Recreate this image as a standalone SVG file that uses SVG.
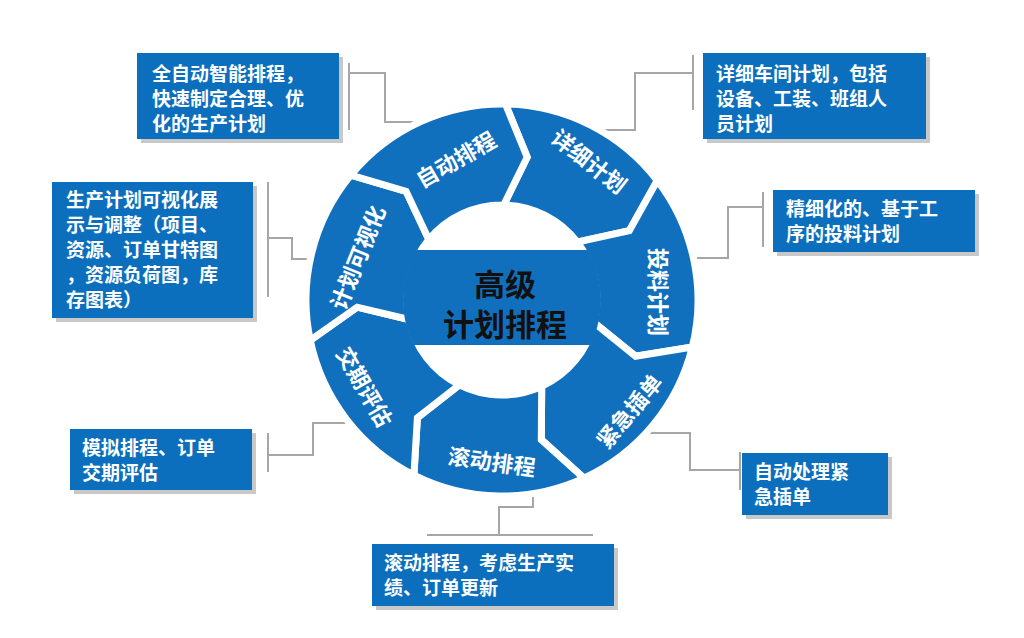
<svg xmlns="http://www.w3.org/2000/svg" width="1024" height="638" viewBox="0 0 1024 638">
<defs>
<style>
.seg{fill:#1170bd;stroke:#fff;stroke-width:7;stroke-linejoin:miter}
.box{fill:#0b6fbd}
.sh{fill:#9a9a9a;opacity:.55}
.bt{font-family:"Noto Sans CJK SC","Noto Sans",sans-serif;font-weight:bold;font-size:19px;fill:#fff}
.lb{font-family:"Noto Sans CJK SC","Noto Sans",sans-serif;font-weight:bold;font-size:22px;fill:#fff;text-anchor:middle;dominant-baseline:central}
.ln{fill:none;stroke:#a6a6a6;stroke-width:2}
.ct{font-family:"Noto Sans CJK SC",sans-serif;font-weight:bold;font-size:31px;fill:#111;text-anchor:middle}
</style>
<clipPath id="hole"><circle cx="502" cy="300" r="99"/></clipPath>
</defs>
<rect width="1024" height="638" fill="#fff"/>
<g id="connectors">
<path class="ln" d="M349 63V130M349 73H385V122H430"/>
<path class="ln" d="M268 182V297M268 238H292V259H315"/>
<path class="ln" d="M693 55V110M693 73H635V130H575"/>
<path class="ln" d="M763 192V247M763 207H728V258H693"/>
<path class="ln" d="M268 433V472M268 455H313V423H357"/>
<path class="ln" d="M740 452V490M740 470H690V433H642"/>
<path class="ln" d="M427 535H593M499 535V507H533V482"/>
</g>
<g id="ring">
<path id="seg-xixi" class="seg" d="M505.4 104 A196 196 0 0 1 657.3 180.5 L629.3 230.6 L577.3 242.1 A95 95 0 0 0 503.7 205 L527.2 157.2 Z"/>
<path id="seg-touliao" class="seg" d="M657.3 180.5 A196 196 0 0 1 692.3 347 L635.6 356.3 L594.2 322.8 A95 95 0 0 0 577.3 242.1 L629.3 230.6 Z"/>
<path id="seg-jinji" class="seg" d="M692.3 347 A196 196 0 0 1 583.9 478.1 L541.3 439.6 L541.7 386.3 A95 95 0 0 0 594.2 322.8 L635.6 356.3 Z"/>
<path id="seg-gundong" class="seg" d="M583.9 478.1 A196 196 0 0 1 413.9 475.1 L417.4 417.7 L459.3 384.9 A95 95 0 0 0 541.7 386.3 L541.3 439.6 Z"/>
<path id="seg-jiaoqi" class="seg" d="M413.9 475.1 A196 196 0 0 1 310.2 340.3 L357.2 307.2 L409 319.5 A95 95 0 0 0 459.3 384.9 L417.4 417.7 Z"/>
<path id="seg-keshi" class="seg" d="M310.2 340.3 A196 196 0 0 1 350.9 175.1 L406.1 191.3 L428.8 239.5 A95 95 0 0 0 409 319.5 L357.2 307.2 Z"/>
<path id="seg-zidong" class="seg" d="M350.9 175.1 A196 196 0 0 1 505.4 104 L527.2 157.2 L503.7 205 A95 95 0 0 0 428.8 239.5 L406.1 191.3 Z"/>
<rect x="395" y="250" width="215" height="95" fill="#1170bd" clip-path="url(#hole)"/>
<text class="ct" x="505" y="296">高级</text>
<text class="ct" x="505" y="336">计划排程</text>
<text class="lb" transform="translate(455,158) rotate(-30)">自动排程</text>
<text class="lb" transform="translate(590,160) rotate(38)">详细计划</text>
<text class="lb" transform="translate(660,292) rotate(90)">投料计划</text>
<text class="lb" transform="translate(628,410) rotate(-50)">紧急插单</text>
<text class="lb" transform="translate(492,460) rotate(8)">滚动排程</text>
<text class="lb" transform="translate(366,386) rotate(60)">交期评估</text>
<text class="lb" transform="translate(356,257) rotate(-68)">计划可视化</text>
</g>
<g id="box1"><rect class="sh" x="141" y="57" width="202" height="86"/><rect class="box" x="137" y="53" width="202" height="86"/>
<text class="bt" x="152" y="81">全自动智能排程，</text><text class="bt" x="152" y="106">快速制定合理、优</text><text class="bt" x="152" y="131">化的生产计划</text></g>
<g id="box2"><rect class="sh" x="707" y="57" width="223" height="86"/><rect class="box" x="703" y="53" width="223" height="86"/>
<text class="bt" x="716" y="81">详细车间计划，包括</text><text class="bt" x="716" y="106">设备、工装、班组人</text><text class="bt" x="716" y="131">员计划</text></g>
<g id="box3"><rect class="sh" x="777" y="194" width="202" height="62"/><rect class="box" x="773" y="190" width="202" height="62"/>
<text class="bt" x="786" y="216">精细化的、基于工</text><text class="bt" x="786" y="241">序的投料计划</text></g>
<g id="box4"><rect class="sh" x="56" y="186" width="201" height="136"/><rect class="box" x="52" y="182" width="201" height="136"/>
<text class="bt" x="66" y="207">生产计划可视化展</text><text class="bt" x="66" y="232">示与调整（项目、</text><text class="bt" x="66" y="257">资源、订单甘特图</text><text class="bt" x="66" y="282">，资源负荷图，库</text><text class="bt" x="66" y="307">存图表）</text></g>
<g id="box5"><rect class="sh" x="74" y="433" width="182" height="61"/><rect class="box" x="70" y="429" width="182" height="61"/>
<text class="bt" x="82" y="455">模拟排程、订单</text><text class="bt" x="82" y="480">交期评估</text></g>
<g id="box6"><rect class="sh" x="746" y="457" width="146" height="62"/><rect class="box" x="742" y="453" width="146" height="62"/>
<text class="bt" x="754" y="479">自动处理紧</text><text class="bt" x="754" y="504">急插单</text></g>
<g id="box7"><rect class="sh" x="376" y="548" width="242" height="62"/><rect class="box" x="372" y="544" width="242" height="62"/>
<text class="bt" x="384" y="570">滚动排程，考虑生产实</text><text class="bt" x="384" y="595">绩、订单更新</text></g>
</svg>
